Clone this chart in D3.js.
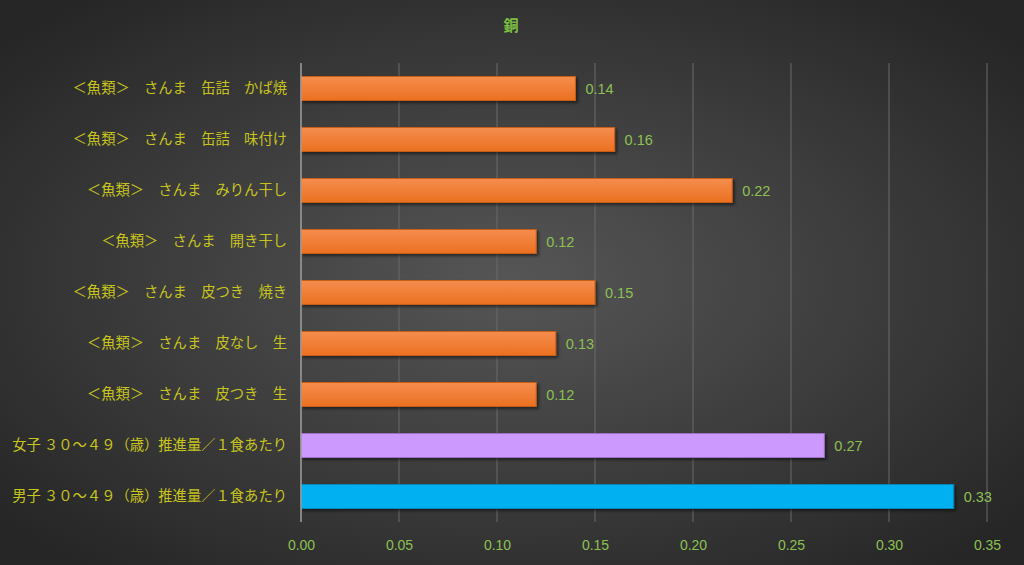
<!DOCTYPE html>
<html><head><meta charset="utf-8">
<script src="https://cdn.jsdelivr.net/npm/d3@7"></script>
<style>html,body{margin:0;padding:0;background:#333;}svg{display:block;}</style>
</head><body>
<script>
const title = "銅";
const categories = [
  "＜魚類＞　さんま　缶詰　かば焼",
  "＜魚類＞　さんま　缶詰　味付け",
  "＜魚類＞　さんま　みりん干し",
  "＜魚類＞　さんま　開き干し",
  "＜魚類＞　さんま　皮つき　焼き",
  "＜魚類＞　さんま　皮なし　生",
  "＜魚類＞　さんま　皮つき　生",
  "女子 ３０～４９（歳）推進量／１食あたり",
  "男子 ３０～４９（歳）推進量／１食あたり"
];
const values = [0.14, 0.16, 0.22, 0.12, 0.15, 0.13, 0.12, 0.267, 0.333];
const barColors = ["orange","orange","orange","orange","orange","orange","orange","purple","blue"];
const xTicks = [0, 0.05, 0.10, 0.15, 0.20, 0.25, 0.30, 0.35];

const W = 1024, H = 565;
const svg = d3.select("body").append("svg").attr("width", W).attr("height", H);
const defs = svg.append("defs");
const bg = defs.append("radialGradient").attr("id","bg").attr("cx","50%").attr("cy","50%").attr("r","65%");
bg.append("stop").attr("offset","0%").attr("stop-color","#565656");
bg.append("stop").attr("offset","100%").attr("stop-color","#262626");
const og = defs.append("linearGradient").attr("id","orange").attr("x1",0).attr("y1",0).attr("x2",0).attr("y2",1);
og.append("stop").attr("offset","0%").attr("stop-color","#f58d4e");
og.append("stop").attr("offset","100%").attr("stop-color","#eb7020");
const sh = defs.append("filter").attr("id","sh").attr("x","-10%").attr("y","-30%").attr("width","130%").attr("height","180%");
sh.append("feDropShadow").attr("dx",2).attr("dy",2).attr("stdDeviation",1.5).attr("flood-color","#000").attr("flood-opacity",0.5);

const fills = {orange:"url(#orange)", purple:"#cc99ff", blue:"#00b0f0"};
const strokes = {orange:"#c95f16", purple:"#9f70cc", blue:"#0088bb"};

svg.append("rect").attr("width",W).attr("height",H).attr("fill","url(#bg)");

const x = d3.scaleLinear().domain([0, 0.35]).range([301, 987]);
const y = d3.scaleBand().domain(categories).range([63, 522]).paddingInner(0.53).paddingOuter(0.265);

// gridlines
svg.append("g").selectAll("line").data(xTicks.slice(1)).join("line")
  .attr("x1", d => x(d)).attr("x2", d => x(d)).attr("y1", 63).attr("y2", 522)
  .attr("stroke", "#6a6a6a").attr("stroke-width", 1);

// x axis tick labels
const xAxis = d3.axisBottom(x).tickValues(xTicks).tickFormat(d3.format(".2f")).tickSize(0).tickPadding(0);
const xg = svg.append("g").attr("transform","translate(0,550)").call(xAxis);
xg.select(".domain").remove();
xg.selectAll("text").attr("fill","#8cc152").attr("font-family","'Liberation Sans Narrow', 'Liberation Sans', sans-serif").attr("font-size",14).attr("dy",0);

// bars
svg.append("g").selectAll("rect").data(values).join("rect")
  .attr("x", x(0)).attr("y", (d,i) => y(categories[i]))
  .attr("width", d => x(d) - x(0)).attr("height", y.bandwidth())
  .attr("fill", (d,i) => fills[barColors[i]])
  .attr("stroke", (d,i) => strokes[barColors[i]]).attr("stroke-width", 1)
  .attr("filter","url(#sh)");

// y axis line
svg.append("line").attr("x1", 301).attr("x2", 301).attr("y1", 63).attr("y2", 522)
  .attr("stroke","#a0a0a0").attr("stroke-width",1.5);

// category labels
const yAxis = d3.axisLeft(y).tickSize(0).tickPadding(0);
const yg = svg.append("g").attr("transform","translate(287,0)").call(yAxis);
yg.select(".domain").remove();
yg.selectAll("text").attr("fill","#c8c41e").attr("font-family","'Noto Sans CJK JP', sans-serif").attr("font-size",14.3);

// value labels
svg.append("g").selectAll("text").data(values).join("text")
  .attr("x", d => x(d) + 10).attr("y", (d,i) => y(categories[i]) + y.bandwidth()/2 + 5)
  .attr("fill","#8cc152").attr("font-family","'Liberation Sans', sans-serif").attr("font-size",14.5)
  .text(d => d3.format(".2f")(d));

// title
svg.append("text").attr("x", 511).attr("y", 31).attr("text-anchor","middle")
  .attr("fill","#7dc142").attr("font-family","'Noto Sans CJK JP', sans-serif").attr("font-weight","bold").attr("font-size",15)
  .text(title);
</script>
</body></html>
